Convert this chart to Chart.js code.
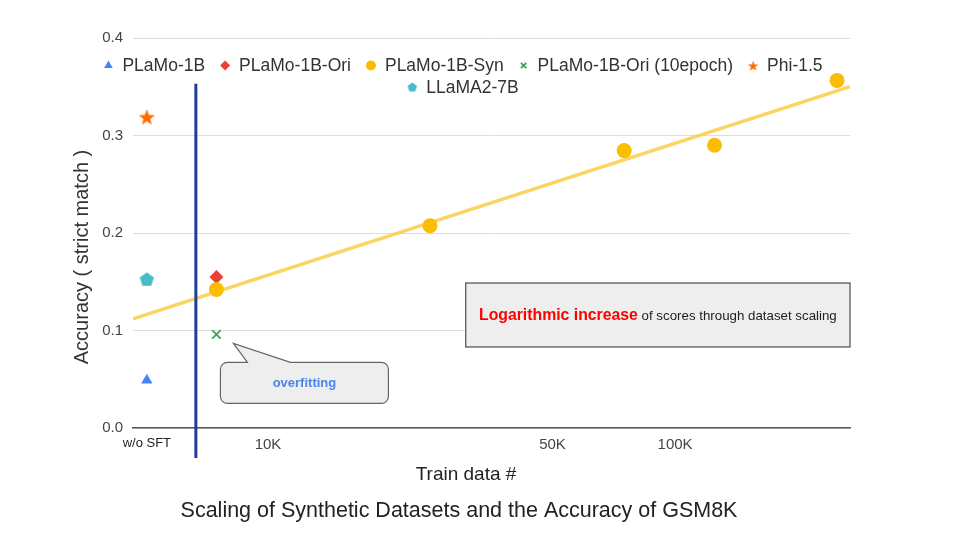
<!DOCTYPE html>
<html>
<head>
<meta charset="utf-8">
<script src="https://cdn.jsdelivr.net/npm/chart.js@4.4.1/dist/chart.umd.min.js"></script>
<style>
  html, body { margin: 0; padding: 0; background: #fff; }
  #wrap { width: 960px; height: 540px; }
</style>
</head>
<body>
<div id="wrap"><canvas id="gsmChart" width="960" height="540"></canvas></div>
<script>
const FONT = 'Arial, "Liberation Sans", sans-serif';

// train data size (x), "w/o SFT" models sit in their own slot left of the divider
const woSftX = 5040;
const oriX = 7470;
const synX = [7470, 25000, 75000, 125000, 250000];
const synY = [0.142, 0.2075, 0.2845, 0.290, 0.3565];
const plamo1bY = [0.049];
const oriY = [0.155];
const ori10epochY = [0.096];
const phiY = [0.319];
const llamaY = [0.1525];

// trend line (ends)
const trendX = [4660, 269000];
const trendY = [0.112, 0.350];

const tickValues = [5040, 10000, 50000, 100000];
const tickLabels = ['w/o SFT', '10K', '50K', '100K'];

// divider between base models and fine-tuned ones
const dividerX = 6650;
const dividerTop = 0.353;

// star / pentagon markers are not built into Chart.js
function shapeCanvas(kind, r, color) {
  const size = Math.ceil(r * 2 + 2);
  const c = document.createElement('canvas');
  c.width = size; c.height = size;
  const g = c.getContext('2d');
  const cx = size / 2, cy = size / 2 + (kind === 'star' ? 0.8 : 0.5);
  const n = kind === 'star' ? 10 : 5;
  g.fillStyle = color;
  g.beginPath();
  for (let i = 0; i < n; i++) {
    const a = -Math.PI / 2 + i * 2 * Math.PI / n;
    const rr = (kind === 'star' && i % 2) ? r * 0.42 : r;
    const px = cx + rr * Math.cos(a), py = cy + rr * Math.sin(a);
    if (i === 0) g.moveTo(px, py); else g.lineTo(px, py);
  }
  g.closePath();
  g.fill();
  return c;
}

const markers = [
  { style: 'triangle', color: '#4285f4', r: 6.5, lr: 5, bw: 0 },
  { style: 'rectRot', color: '#ea4335', r: 7, lr: 5, bw: 0 },
  { style: 'circle', color: '#fbbc04', r: 7.5, lr: 5, bw: 0 },
  { style: 'crossRot', color: '#34a853', r: 6, lr: 3.8, bw: 1.8 },
  { style: shapeCanvas('star', 8.5, '#ff6d01'), legend: shapeCanvas('star', 5.5, '#ff6d01'), color: '#ff6d01', r: 8.5, bw: 0 },
  { style: shapeCanvas('pentagon', 7.5, '#46bdc6'), legend: shapeCanvas('pentagon', 5, '#46bdc6'), color: '#46bdc6', r: 7.5, bw: 0 }
];

function pts(xs, ys) { return ys.map((y, i) => ({ x: Array.isArray(xs) ? xs[i] : xs, y })); }

function pointDs(label, data, m, order) {
  return {
    label, data, order,
    pointStyle: m.style,
    pointRadius: m.r,
    pointHoverRadius: m.r,
    pointBackgroundColor: m.color,
    pointBorderColor: m.color,
    pointBorderWidth: m.bw
  };
}

const datasets = [
  pointDs('PLaMo-1B', pts(woSftX, plamo1bY), markers[0], 0),
  pointDs('PLaMo-1B-Ori', pts(oriX, oriY), markers[1], 1),
  pointDs('PLaMo-1B-Syn', pts(synX, synY), markers[2], 0),
  pointDs('PLaMo-1B-Ori (10epoch)', pts(oriX, ori10epochY), markers[3], 0),
  pointDs('Phi-1.5', pts(woSftX, phiY), markers[4], 0),
  pointDs('LLaMA2-7B', pts(woSftX, llamaY), markers[5], 0),
  {
    label: 'trend', data: pts(trendX, trendY), order: 2,
    showLine: true, pointRadius: 0, pointHoverRadius: 0,
    borderColor: 'rgba(252, 205, 70, 0.85)', borderWidth: 3.5
  }
];

const slidePlugin = {
  id: 'slide',
  afterDatasetsDraw(chart) {
    const { ctx, chartArea } = chart;
    const x = chart.scales.x, y = chart.scales.y;
    ctx.save();

    // vertical divider
    const dx = x.getPixelForValue(dividerX);
    ctx.strokeStyle = '#1f3c98';
    ctx.lineWidth = 3;
    ctx.beginPath();
    ctx.moveTo(dx, y.getPixelForValue(dividerTop));
    ctx.lineTo(dx, chartArea.bottom + 30);
    ctx.stroke();

    // note box
    const bl = x.getPixelForValue(30600), br = chartArea.right;
    const bt = y.getPixelForValue(0.1487), bb = y.getPixelForValue(0.0831);
    ctx.fillStyle = '#eeeeee';
    ctx.fillRect(bl, bt, br - bl, bb - bt);
    ctx.strokeStyle = '#595959';
    ctx.lineWidth = 1.3;
    ctx.strokeRect(bl, bt, br - bl, bb - bt);
    const red = 'Logarithmic increase', rest = ' of scores through dataset scaling';
    ctx.font = 'bold 15.8px ' + FONT;
    const wRed = ctx.measureText(red).width;
    ctx.font = '13.3px ' + FONT;
    const wRest = ctx.measureText(rest).width;
    let tx = (bl + br) / 2 - (wRed + wRest) / 2;
    const ty = (bt + bb) / 2 + 1;
    ctx.textBaseline = 'middle';
    ctx.textAlign = 'left';
    ctx.font = 'bold 15.8px ' + FONT;
    ctx.fillStyle = '#ff0000';
    ctx.fillText(red, tx, ty);
    ctx.font = '13.3px ' + FONT;
    ctx.fillStyle = '#222';
    ctx.fillText(rest, tx + wRed, ty);

    // "overfitting" callout pointing at the 10-epoch point
    const gx = x.getPixelForValue(oriX), gy = y.getPixelForValue(ori10epochY[0]);
    const L = gx + 4, R = gx + 172, T = gy + 28, B = gy + 69, rad = 7;
    ctx.beginPath();
    ctx.moveTo(L + rad, T);
    ctx.lineTo(gx + 31, T);
    ctx.lineTo(gx + 17, gy + 9);
    ctx.lineTo(gx + 74, T);
    ctx.lineTo(R - rad, T);
    ctx.arcTo(R, T, R, T + rad, rad);
    ctx.lineTo(R, B - rad);
    ctx.arcTo(R, B, R - rad, B, rad);
    ctx.lineTo(L + rad, B);
    ctx.arcTo(L, B, L, B - rad, rad);
    ctx.lineTo(L, T + rad);
    ctx.arcTo(L, T, L + rad, T, rad);
    ctx.closePath();
    ctx.fillStyle = '#eeeeee';
    ctx.fill();
    ctx.strokeStyle = '#666';
    ctx.lineWidth = 1.2;
    ctx.stroke();
    ctx.font = 'bold 13px ' + FONT;
    ctx.fillStyle = '#4a86e8';
    ctx.textAlign = 'center';
    ctx.fillText('overfitting', (L + R) / 2, (T + B) / 2 + 1);
    ctx.restore();
  },
  afterDraw(chart) {
    const ctx = chart.ctx;
    ctx.save();
    ctx.textBaseline = 'middle';

    // legend, two centred rows inside the plot
    ctx.font = '17.5px ' + FONT;
    const items = datasets.slice(0, 6).map((ds, i) => ({ ds, m: markers[i], w: 19 + ctx.measureText(ds.label).width }));
    const rows = [];
    let row = [], rw = 0;
    items.forEach(it => {
      const add = row.length ? 15 + it.w : it.w;
      if (row.length && rw + add > 760) { rows.push({ row, rw }); row = [it]; rw = it.w; }
      else { row.push(it); rw += add; }
    });
    rows.push({ row, rw });
    rows.forEach((r, ri) => {
      let lx = 463 - r.rw / 2;
      const ly = 65.5 + ri * 21.5;
      r.row.forEach(it => {
        const m = it.m;
        if (m.legend) {
          ctx.drawImage(m.legend, lx + 5 - m.legend.width / 2, ly - m.legend.height / 2);
        } else {
          ctx.fillStyle = m.color;
          ctx.strokeStyle = m.color;
          ctx.lineWidth = m.bw;
          Chart.helpers.drawPoint(ctx, { pointStyle: m.style, radius: m.lr, borderWidth: m.bw, rotation: 0 }, lx + 5, ly);
        }
        ctx.fillStyle = '#333';
        ctx.textAlign = 'left';
        ctx.fillText(it.ds.label, lx + 19, ly + 1);
        lx += it.w + 15;
      });
    });

    // axis titles and chart title
    ctx.fillStyle = '#222';
    ctx.textAlign = 'center';
    ctx.font = '19px ' + FONT;
    ctx.fillText('Train data #', 466, 475);
    ctx.font = '21.5px ' + FONT;
    ctx.fillText('Scaling of Synthetic Datasets and the Accuracy of GSM8K', 459, 511.5);
    ctx.translate(82, 257);
    ctx.rotate(-Math.PI / 2);
    ctx.font = '20px ' + FONT;
    ctx.fillStyle = '#333';
    ctx.fillText('Accuracy ( strict match )', 0, 0);
    ctx.restore();
  }
};

const ctx = document.getElementById('gsmChart').getContext('2d');
new Chart(ctx, {
  type: 'scatter',
  data: { datasets },
  plugins: [slidePlugin],
  options: {
    responsive: false,
    animation: false,
    layout: { padding: { top: 38, right: 110, bottom: 0, left: 0 } },
    plugins: {
      legend: { display: false },
      title: { display: false },
      tooltip: { enabled: false }
    },
    scales: {
      x: {
        type: 'logarithmic',
        min: 4660,
        max: 269000,
        bounds: 'data',
        afterBuildTicks: (scale) => { scale.ticks = tickValues.map(v => ({ value: v })); },
        afterFit: (scale) => { scale.height = 112; },
        grid: { display: false, drawTicks: false },
        border: { display: true, color: '#555', width: 1.5 },
        ticks: {
          autoSkip: false,
          maxRotation: 0,
          padding: 8,
          color: (c) => c.index === 0 ? '#222' : '#444',
          font: (c) => ({ family: FONT, size: c.index === 0 ? 13 : 15 }),
          callback: (v, i) => tickLabels[i]
        }
      },
      y: {
        min: 0,
        max: 0.4,
        afterFit: (scale) => { scale.width = 133; },
        grid: { color: '#dddddd', lineWidth: 1, drawTicks: false },
        border: { display: false },
        ticks: {
          stepSize: 0.1,
          padding: 10,
          color: '#444',
          font: { family: FONT, size: 15 },
          callback: (v) => v.toFixed(1)
        }
      }
    }
  }
});
</script>
</body>
</html>
